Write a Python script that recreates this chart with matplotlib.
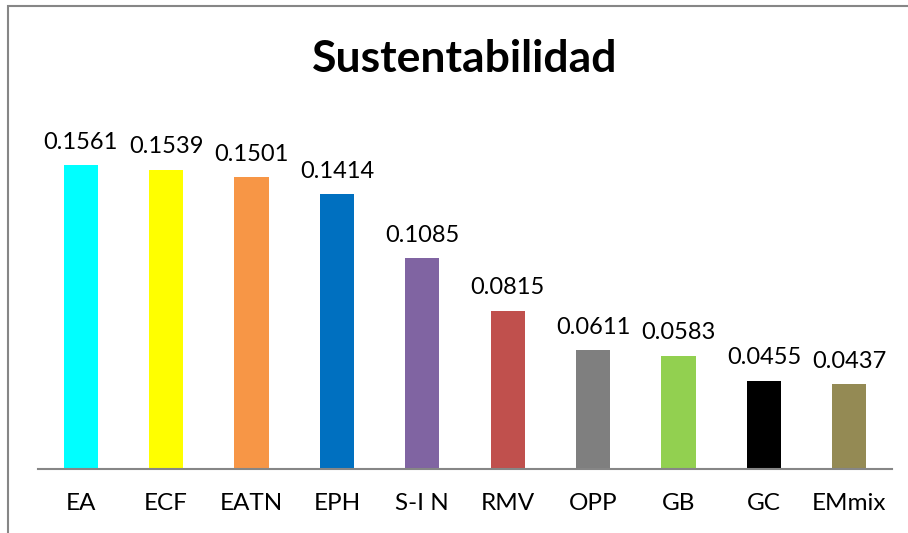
import matplotlib.pyplot as plt
from matplotlib.patches import Rectangle

categories = ["EA", "ECF", "EATN", "EPH", "S-I N", "RMV", "OPP", "GB", "GC", "EMmix"]
values = [0.1561, 0.1539, 0.1501, 0.1414, 0.1085, 0.0815, 0.0611, 0.0583, 0.0455, 0.0437]
colors = ["#00FFFF", "#FFFF00", "#F79646", "#0070C0", "#8064A2",
          "#C0504D", "#7F7F7F", "#92D050", "#000000", "#948A54"]

plt.rcParams['font.family'] = ['Lato', 'DejaVu Sans']

fig = plt.figure(figsize=(9.08, 5.33), dpi=100)
ax = fig.add_axes([0.0419, 0.1201, 0.9405, 0.6567])

x = range(len(categories))
ax.bar(x, values, width=0.40, color=colors, zorder=2)

for i, v in enumerate(values):
    ax.annotate("%.4f" % v, (i, v), xytext=(0, 9), textcoords="offset points",
                ha="center", va="bottom", fontsize=17, color="black")

ax.set_xlim(-0.5, len(categories) - 0.5)
ax.set_ylim(0, 0.18)
ax.set_xticks(list(x))
ax.set_xticklabels(categories, fontsize=17.5)
ax.tick_params(axis="x", length=0, pad=17)
ax.set_yticks([])
for side in ["top", "right", "left"]:
    ax.spines[side].set_visible(False)
ax.spines["bottom"].set_color("#868686")
ax.spines["bottom"].set_linewidth(1.5)

fig.text(0.512, 0.890, "Sustentabilidad", ha="center", va="center",
         fontsize=32, fontweight="bold")

# chart frame, runs off the right and bottom edges
fig.patches.append(Rectangle((8 / 908, -0.1), 1.2, 1.1 - 6 / 533,
                             transform=fig.transFigure, fill=False,
                             edgecolor="#868686", linewidth=1.5))

fig.savefig("out.png", dpi=100)
